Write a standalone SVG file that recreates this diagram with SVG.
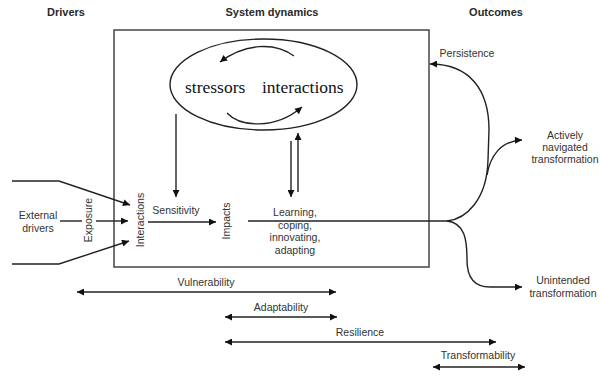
<svg xmlns="http://www.w3.org/2000/svg" width="601" height="377" viewBox="0 0 601 377">
<style>
  .hdr { font-family: "Liberation Sans", Arial, sans-serif; font-weight: bold; font-size: 11px; fill: #2a2a2a; text-anchor: middle; }
  .lbl { font-family: "Liberation Sans", Arial, sans-serif; font-size: 10.5px; fill: #333; text-anchor: middle; }
  .serif { font-family: "Liberation Serif", "Times New Roman", serif; font-size: 17.5px; fill: #111; }
  .ln { fill: none; stroke: #222; stroke-width: 1.4; }
  .ar { fill: none; stroke: #222; stroke-width: 1.4; marker-end: url(#ah); }
  .dbl { fill: none; stroke: #222; stroke-width: 1.6; marker-start: url(#ah); marker-end: url(#ah); }
</style>
<defs>
  <marker id="ah" viewBox="0 0 10 10" refX="10" refY="5" markerWidth="10" markerHeight="7" markerUnits="userSpaceOnUse" orient="auto-start-reverse">
    <path d="M0,0 L10,5 L0,10 z" fill="#111"/>
  </marker>
</defs>
<rect width="601" height="377" fill="#fff"/>

<g id="headers">
  <text class="hdr" x="66" y="16">Drivers</text>
  <text class="hdr" x="272" y="16">System dynamics</text>
  <text class="hdr" x="496" y="16">Outcomes</text>
</g>

<g id="system-box">
  <rect x="114" y="30" width="315" height="237" fill="none" stroke="#444" stroke-width="1.5"/>
</g>

<g id="loop">
  <ellipse cx="263.5" cy="84.5" rx="93.5" ry="45.5" fill="none" stroke="#222" stroke-width="1.4"/>
  <text class="serif" x="185" y="93">stressors</text>
  <text class="serif" x="262" y="93">interactions</text>
</g>

<g id="external-drivers">
  <text class="lbl" x="38" y="219">External</text>
  <text class="lbl" x="38" y="232">drivers</text>
</g>
<g id="exposure"><text class="lbl" transform="translate(88,220) rotate(-90)" y="3.5">Exposure</text></g>
<g id="interactions"><text class="lbl" transform="translate(140,220) rotate(-90)" y="3.5">Interactions</text></g>
<g id="sensitivity"><text class="lbl" x="176" y="214">Sensitivity</text></g>
<g id="impacts"><text class="lbl" transform="translate(226,221) rotate(-90)" y="3.5">Impacts</text></g>
<g id="learning">
  <text class="lbl" x="295" y="216">Learning,</text>
  <text class="lbl" x="295" y="229">coping,</text>
  <text class="lbl" x="295" y="241">innovating,</text>
  <text class="lbl" x="295" y="254">adapting</text>
</g>
<g id="persistence"><text class="lbl" x="467" y="57">Persistence</text></g>
<g id="actively">
  <text class="lbl" x="565" y="139">Actively</text>
  <text class="lbl" x="565" y="151">navigated</text>
  <text class="lbl" x="565" y="163">transformation</text>
</g>
<g id="unintended">
  <text class="lbl" x="563" y="284">Unintended</text>
  <text class="lbl" x="563" y="297">transformation</text>
</g>
<g id="scales">
  <text class="lbl" x="206" y="286">Vulnerability</text>
  <text class="lbl" x="281" y="311">Adaptability</text>
  <text class="lbl" x="360" y="336">Resilience</text>
  <text class="lbl" x="478" y="359">Transformability</text>
</g>

<g id="connectors">
  <path class="ar" d="M294,56 C275,42 245,43 220,62"/>
  <path class="ar" d="M227,113 C240,127 275,130 302,107"/>
  <path class="ar" d="M12,181 L59,181 L130,205"/>
  <path class="ar" d="M12,264 L59,264 L129,241"/>
  <path class="ln" d="M60,221 L82,221"/>
  <path class="ar" d="M96,221 L128,221"/>
  <path class="ar" d="M148,222 L216,222"/>
  <path class="ar" d="M176,114 L176,197"/>
  <path class="ar" d="M291,141 L291,197"/>
  <path class="ar" d="M298,192 L298,133"/>
  <path class="ln" d="M248,221 L447,221"/>
  <path class="ar" d="M447,221 C466,219 487,200 488,160 L489,130 C489,90 470,64 430,64"/>
  <path class="ar" d="M487,175 C490,157 500,141 522,140"/>
  <path class="ar" d="M447,221 C465,223 467,240 467,260 C467,278 475,287 490,287 L522,287"/>
  <path class="dbl" d="M77,292 L336,292"/>
  <path class="dbl" d="M225,317 L337,317"/>
  <path class="dbl" d="M225,342 L496,342"/>
  <path class="dbl" d="M433,367 L525,367"/>
</g>
</svg>
